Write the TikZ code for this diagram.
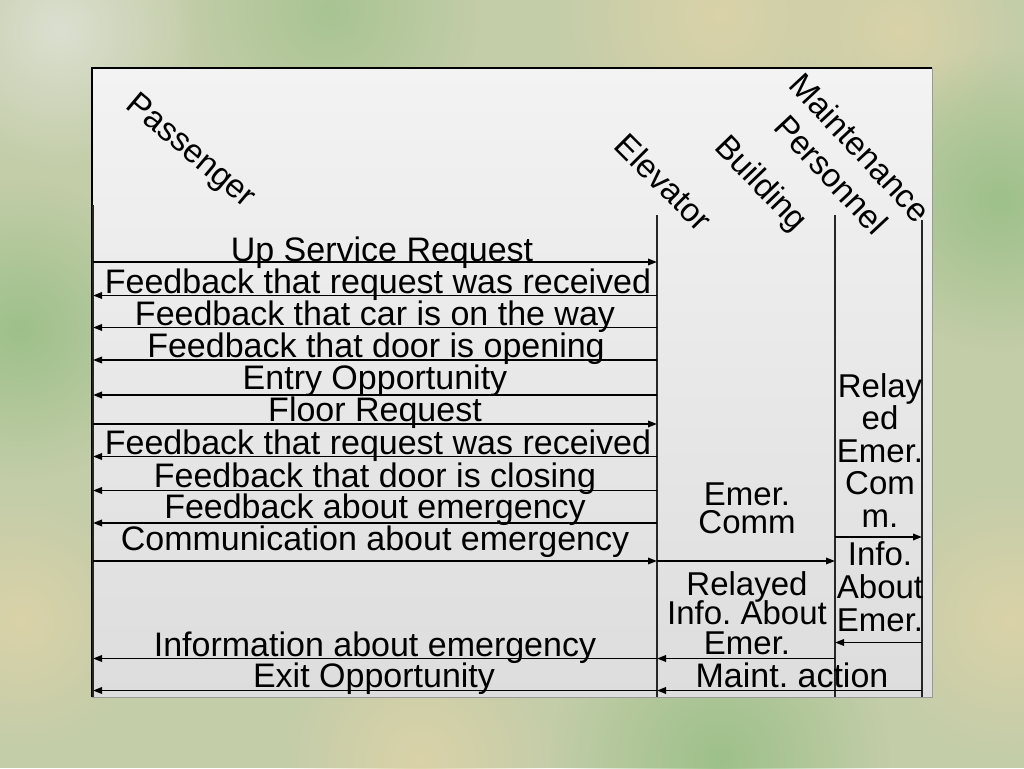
\documentclass[tikz,border=0pt]{standalone}
\usepackage{fontspec}
\setmainfont{Liberation Sans}
\usetikzlibrary{arrows.meta,fadings}
\tikzfading[name=blobfade, inner color=transparent!0, outer color=transparent!100]
\newcommand\mytightlines{\lineskiplimit=-50pt\relax\frenchspacing}
\definecolor{bgbase}{HTML}{C3CDA8}
\definecolor{bggreen}{HTML}{9DC08A}
\definecolor{bgbeige}{HTML}{DAD2A8}
\definecolor{bglight}{HTML}{DCDFD0}
\definecolor{paneltop}{HTML}{F3F3F3}
\definecolor{panelbot}{HTML}{DDDDDD}
\begin{document}
\begin{tikzpicture}[x=1pt,y=-1pt,
  lbl/.style={inner sep=0pt, font={\fontsize{34}{34}\selectfont\mytightlines}},
  hdr/.style={inner sep=0pt, font={\fontsize{33}{40}\selectfont\mytightlines}},
  life/.style={draw=black!85, line width=1.4pt},
  msg/.style={draw=black, line width=1.8pt, -{Triangle[length=9pt,width=6.5pt]}},
  blob/.style={path fading=blobfade}]
% background
\useasboundingbox (0,0) rectangle (1024,768);
\fill[bgbase] (0,0) rectangle (1024,768);
\fill[bglight, blob] (60,30) circle (140);
\fill[bggreen, blob, fill opacity=0.7] (330,10) circle (150);
\fill[bgbeige, blob] (720,15) circle (170);
\fill[bgbeige, blob] (900,30) circle (120);
\fill[bggreen, blob] (1000,200) circle (150);
\fill[bgbeige, blob] (1010,620) circle (140);
\fill[bggreen, blob] (720,760) circle (170);
\fill[bgbeige, blob] (420,760) circle (140);
\fill[bggreen, blob] (20,330) circle (150);
\fill[bgbeige, blob] (20,620) circle (130);
% panel
\shade[top color=paneltop, bottom color=panelbot] (92,68) rectangle (932,697);
\draw[black!40, line width=1pt] (932,68) -- (932,697) -- (92,697);
\draw[black, line width=1.3pt] (92,697) -- (92,68) -- (932,68);
% headers
\node[hdr, rotate=-40] (hP) at (190,152) {Passenger};
\node[hdr, rotate=-45] (hE) at (664,182) {Elevator};
\node[hdr, rotate=-46] (hB) at (760,185) {Building};
\node[hdr, rotate=-47, align=center] (hM) at (846,161) {Maintenance\\Personnel};
% lifelines
\coordinate (Ptop) at (93,205);  \coordinate (Pbot) at (93,697);
\coordinate (Etop) at (657,215); \coordinate (Ebot) at (657,697);
\coordinate (Btop) at (835,215); \coordinate (Bbot) at (835,697);
\coordinate (Mtop) at (922,220); \coordinate (Mbot) at (922,697);
\draw[life] (Ptop) -- (Pbot);
\draw[life] (Etop) -- (Ebot);
\draw[life] (Btop) -- (Bbot);
\draw[life] (Mtop) -- (Mbot);
% message levels
\foreach \n/\y in {1/262,2/295.5,3/327.5,4/360,5/395,6/424,7/456.5,8/490.5,9/523,10/561,11/537,12/642.5,13/658.5,14/690.5}{
  \coordinate (P\n) at (93,\y);
  \coordinate (E\n) at (657,\y);
  \coordinate (B\n) at (835,\y);
  \coordinate (M\n) at (922,\y);
}
% messages
\draw[msg] (P1) -- (E1);
\draw[msg] (E2) -- (P2);
\draw[msg] (E3) -- (P3);
\draw[msg] (E4) -- (P4);
\draw[msg] (E5) -- (P5);
\draw[msg] (P6) -- (E6);
\draw[msg] (E7) -- (P7);
\draw[msg] (E8) -- (P8);
\draw[msg] (E9) -- (P9);
\draw[msg] (P10) -- (E10);
\draw[msg] (E10) -- (B10);
\draw[msg] (B11) -- (M11);
\draw[msg] (M12) -- (B12);
\draw[msg] (B13) -- (E13);
\draw[msg] (E13) -- (P13);
\draw[msg] (M14) -- (E14);
\draw[msg] (E14) -- (P14);
% labels
\node[lbl, anchor=base] (t1) at (382,261) {Up Service Request};
\node[lbl, anchor=base] (t2) at (378,293) {Feedback that request was received};
\node[lbl, anchor=base] (t3) at (375,325) {Feedback that car is on the way};
\node[lbl, anchor=base] (t4) at (376,357) {Feedback that door is opening};
\node[lbl, anchor=base] (t5) at (375,389) {Entry Opportunity};
\node[lbl, anchor=base] (t6) at (375,421) {Floor Request};
\node[lbl, anchor=base] (t7) at (378,454) {Feedback that request was received};
\node[lbl, anchor=base] (t8) at (375,487) {Feedback that door is closing};
\node[lbl, anchor=base] (t9) at (375,518) {Feedback about emergency};
\node[lbl, anchor=base] (t10) at (375,550) {Communication about emergency};
\node[lbl, anchor=base] (t15) at (375,656) {Information about emergency};
\node[lbl, anchor=base] (t17) at (374,687) {Exit Opportunity};
\node[lbl, anchor=base, align=center, font={\fontsize{33}{28}\selectfont\mytightlines}] (t11) at (747,533) {Emer.\\Comm};
\node[lbl, anchor=base, align=center, font={\fontsize{33}{29.5}\selectfont\mytightlines}] (t14) at (747,654) {Relayed\\Info. About\\Emer.};
\node[lbl, anchor=base, align=center, font={\fontsize{33}{32.5}\selectfont\mytightlines}] (t12) at (880,527) {Relay\\ed\\Emer.\\Com\\m.};
\node[lbl, anchor=base, align=center, font={\fontsize{33}{33}\selectfont\mytightlines}] (t13) at (880,631) {Info.\\About\\Emer.};
\node[lbl, anchor=base] (t16) at (792,687) {Maint. action};
\end{tikzpicture}
\end{document}
